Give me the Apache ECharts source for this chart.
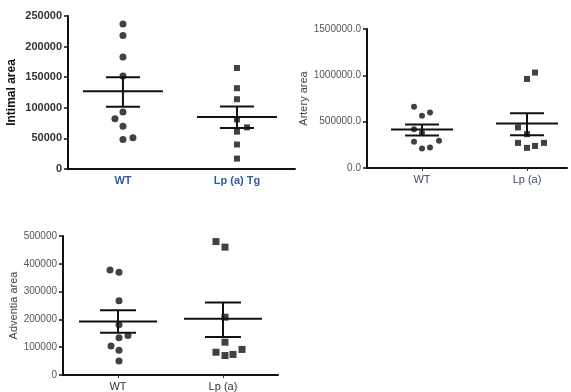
<!DOCTYPE html>
<html>
<head>
<meta charset="utf-8">
<script src="https://cdn.jsdelivr.net/npm/echarts@6/dist/echarts.min.js"></script>
<style>
  html, body { margin: 0; padding: 0; background: #fff; }
  #main { width: 571px; height: 392px; }
</style>
</head>
<body>
<div id="main"></div>
<script>
// groups
var catsTop = ['WT', 'Lp (a) Tg'];
var catsOther = ['WT', 'Lp (a)'];

// Intimal area
var intimalWT = [237000, 218000, 183000, 152000, 93000, 82000, 70000, 48000, 51000];
var intimalLp = [165000, 132000, 114000, 81000, 68000, 61000, 40000, 17000];
var intimalMean = [127000, 85000];
var intimalLo = [101800, 67000];
var intimalHi = [149800, 102000];

// Artery area
var arteryWT = [661000, 600000, 565000, 419000, 380000, 282000, 293000, 210000, 221000];
var arteryLp = [961000, 1030000, 438000, 365000, 271000, 217000, 238000, 271000];
var arteryMean = [416000, 481000];
var arteryLo = [351000, 354000];
var arteryHi = [470000, 590000];

// Adventia area
var adventWT = [378000, 370000, 267000, 181000, 134000, 142000, 104000, 89000, 50000];
var adventLp = [480000, 460000, 208000, 118000, 82000, 70000, 74000, 92000];
var adventMean = [192000, 202000];
var adventLo = [152000, 137000];
var adventHi = [233000, 261000];

// horizontal scatter of the dots (px)
var jitIntWT = [0, 0, 0, 0, 0, -8, 0, 0, 10];
var jitIntLp = [0, 0, 0, 0, 10, 0, 0, 0];
var jitArtWT = [-8, 8, 0, -8, 0, -8, 17, 0, 8];
var jitArtLp = [0, 8, -9, 0, -9, 0, 8, 17];
var jitAdvWT = [-8, 1, 1, 1, 1, 10, -7, 1, 1];
var jitAdvLp = [-7, 2, 2, 2, -7, 2, 10, 19];

function pts(cat, vals, jit) {
    return vals.map(function (v, i) {
        return { value: [cat, v], symbolOffset: [jit[i], 0] };
    });
}

function meanSem(mean, lo, hi) {
    return mean.map(function (m, i) { return [i, m, lo[i], hi[i]]; });
}

function errSeries(idx, data, halfMean, halfSem) {
    return {
        type: 'custom',
        xAxisIndex: idx,
        yAxisIndex: idx,
        z: 4,
        data: data,
        renderItem: function (params, api) {
            var x = api.value(0);
            var m = api.coord([x, api.value(1)]);
            var lo = api.coord([x, api.value(2)]);
            var hi = api.coord([x, api.value(3)]);
            var st = { stroke: '#111', lineWidth: 2 };
            return {
                type: 'group',
                children: [
                    { type: 'line', shape: { x1: m[0] - halfMean, y1: m[1], x2: m[0] + halfMean, y2: m[1] }, style: st },
                    { type: 'line', shape: { x1: lo[0] - halfSem, y1: lo[1], x2: lo[0] + halfSem, y2: lo[1] }, style: st },
                    { type: 'line', shape: { x1: hi[0] - halfSem, y1: hi[1], x2: hi[0] + halfSem, y2: hi[1] }, style: st },
                    { type: 'line', shape: { x1: hi[0], y1: hi[1], x2: lo[0], y2: lo[1] }, style: st }
                ]
            };
        }
    };
}

function xAx(idx, cats, min, max, color, bold, showTick) {
    return {
        type: 'value',
        gridIndex: idx,
        min: min,
        max: max,
        splitLine: { show: false },
        axisLine: { onZero: false, lineStyle: { color: '#111', width: 2 } },
        axisTick: { show: showTick, customValues: [0, 1], length: 3, lineStyle: { color: '#333' } },
        axisLabel: {
            customValues: [0, 1],
            formatter: function (v) { return cats[Math.round(v)]; },
            color: color,
            fontFamily: 'Liberation Sans',
            fontWeight: bold ? 'bold' : 'normal',
            fontSize: 11,
            margin: 6
        }
    };
}

function yAx(idx, name, max, interval, opts) {
    return {
        type: 'value',
        gridIndex: idx,
        min: 0,
        max: max,
        interval: interval,
        name: name,
        nameLocation: 'middle',
        nameGap: opts.nameGap,
        nameTextStyle: {
            fontFamily: 'Liberation Sans',
            fontSize: opts.nameSize,
            fontWeight: opts.bold ? 'bold' : 'normal',
            color: opts.nameColor
        },
        splitLine: { show: false },
        axisLine: { show: true, onZero: false, lineStyle: { color: '#111', width: 2 } },
        axisTick: { show: true, length: 4, lineStyle: { color: '#111', width: 1.5 } },
        axisLabel: {
            color: opts.labelColor,
            fontFamily: 'Liberation Sans',
            fontSize: opts.labelSize,
            fontWeight: opts.bold ? 'bold' : 'normal',
            margin: 6,
            formatter: opts.fmt || function (v) { return String(v); }
        }
    };
}

var dotStyle = { color: '#111' };

var option = {
    backgroundColor: '#fff',
    animation: false,
    grid: [
        { left: 68, top: 16, right: 276, bottom: 223 },
        { left: 367, top: 29, right: 4, bottom: 224 },
        { left: 63, top: 236, right: 293, bottom: 16 }
    ],
    xAxis: [
        xAx(0, catsTop, -0.482, 1.509, '#2e5e9e', true, false),
        xAx(1, catsOther, -0.524, 1.381, '#3a4a6a', false, true),
        xAx(2, catsOther, -0.524, 1.524, '#333', false, true)
    ],
    yAxis: [
        yAx(0, 'Intimal area', 250000, 50000, {
            nameGap: 50, nameSize: 12, bold: true, nameColor: '#111', labelColor: '#333', labelSize: 11
        }),
        yAx(1, 'Artery area', 1500000, 500000, {
            nameGap: 56, nameSize: 11, bold: false, nameColor: '#444', labelColor: '#555', labelSize: 10,
            fmt: function (v) { return v.toFixed(1); }
        }),
        yAx(2, 'Adventia area', 500000, 100000, {
            nameGap: 41, nameSize: 11, bold: false, nameColor: '#444', labelColor: '#555', labelSize: 10
        })
    ],
    series: [
        { type: 'scatter', xAxisIndex: 0, yAxisIndex: 0, symbol: 'circle', symbolSize: 7, itemStyle: dotStyle, data: pts(0, intimalWT, jitIntWT) },
        { type: 'scatter', xAxisIndex: 0, yAxisIndex: 0, symbol: 'rect', symbolSize: 6, itemStyle: dotStyle, data: pts(1, intimalLp, jitIntLp) },
        errSeries(0, meanSem(intimalMean, intimalLo, intimalHi), 40, 17),

        { type: 'scatter', xAxisIndex: 1, yAxisIndex: 1, symbol: 'circle', symbolSize: 6, itemStyle: dotStyle, data: pts(0, arteryWT, jitArtWT) },
        { type: 'scatter', xAxisIndex: 1, yAxisIndex: 1, symbol: 'rect', symbolSize: 6, itemStyle: dotStyle, data: pts(1, arteryLp, jitArtLp) },
        errSeries(1, meanSem(arteryMean, arteryLo, arteryHi), 31, 17),

        { type: 'scatter', xAxisIndex: 2, yAxisIndex: 2, symbol: 'circle', symbolSize: 7, itemStyle: dotStyle, data: pts(0, adventWT, jitAdvWT) },
        { type: 'scatter', xAxisIndex: 2, yAxisIndex: 2, symbol: 'rect', symbolSize: 7, itemStyle: dotStyle, data: pts(1, adventLp, jitAdvLp) },
        errSeries(2, meanSem(adventMean, adventLo, adventHi), 39, 18)
    ]
};

var chart = echarts.init(document.getElementById('main'));
chart.setOption(option);
</script>
</body>
</html>
